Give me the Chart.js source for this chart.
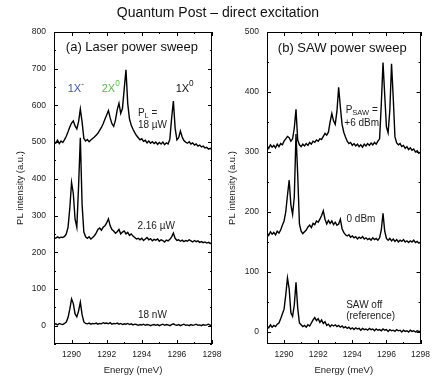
<!DOCTYPE html>
<html>
<head>
<meta charset="utf-8">
<script src="https://cdn.jsdelivr.net/npm/chart.js@4.4.0/dist/chart.umd.min.js"></script>
<style>
  html, body { margin: 0; padding: 0; background: #fff; }
  #wrap { position: relative; width: 436px; height: 380px; overflow: hidden; font-family: "Liberation Sans", Arial, sans-serif; }
  #title { position: absolute; left: 0; top: 4px; width: 436px; text-align: center; font-size: 14px; line-height: 16px; color: #111; }
  #left { position: absolute; left: 0; top: 0; }
  #right { position: absolute; left: 218px; top: 0; }
</style>
</head>
<body>
<div id="wrap">
  <canvas id="left" width="230" height="380"></canvas>
  <canvas id="right" width="218" height="380"></canvas>
  <div id="title">Quantum Post – direct excitation</div>
</div>
<script>
// energie (meV), pas de 0.1
const energy = [
  1289.0, 1289.1, 1289.2, 1289.3, 1289.4, 1289.5, 1289.6, 1289.7, 1289.8, 1289.9,
  1290.0, 1290.1, 1290.2, 1290.3, 1290.4, 1290.5, 1290.6, 1290.7, 1290.8, 1290.9,
  1291.0, 1291.1, 1291.2, 1291.3, 1291.4, 1291.5, 1291.6, 1291.7, 1291.8, 1291.9,
  1292.0, 1292.1, 1292.2, 1292.3, 1292.4, 1292.5, 1292.6, 1292.7, 1292.8, 1292.9,
  1293.0, 1293.1, 1293.2, 1293.3, 1293.4, 1293.5, 1293.6, 1293.7, 1293.8, 1293.9,
  1294.0, 1294.1, 1294.2, 1294.3, 1294.4, 1294.5, 1294.6, 1294.7, 1294.8, 1294.9,
  1295.0, 1295.1, 1295.2, 1295.3, 1295.4, 1295.5, 1295.6, 1295.7, 1295.8, 1295.9,
  1296.0, 1296.1, 1296.2, 1296.3, 1296.4, 1296.5, 1296.6, 1296.7, 1296.8, 1296.9,
  1297.0, 1297.1, 1297.2, 1297.3, 1297.4, 1297.5, 1297.6, 1297.7, 1297.8, 1297.9,
  1298.0
];

// (a) laser power sweep
const laser18uW = [
  502, 497, 505, 496, 503, 499, 507, 516, 528, 541,
  552, 558, 544, 536, 556, 590, 555, 510, 503, 507,
  501, 506, 510, 514, 519, 524, 532, 540, 550, 562,
  574, 586, 566, 550, 543, 560, 588, 606, 578, 592,
  645, 697, 605, 563, 546, 535, 526, 518, 512, 506,
  509, 502, 505, 498, 503, 497, 501, 496, 500, 494,
  499, 495, 500, 493, 498, 495, 508, 565, 612, 538,
  506, 512, 530, 514, 504, 500, 497, 501, 495, 498,
  492, 495, 489, 492, 487, 489, 484, 486, 481, 483,
  479
];
const laser2uW = [
  240, 238, 242, 239, 241, 240, 243, 250, 268, 320,
  390, 360, 290, 268, 380, 512, 330, 255, 242, 238,
  242, 236, 240, 245, 252, 262, 266, 260, 268, 272,
  280, 291, 272, 262, 258, 252, 256, 262, 250, 255,
  258, 250, 254, 246, 250, 244, 240, 236, 238, 234,
  238, 232, 236, 240, 234, 237, 231, 235, 233, 236,
  230, 234, 232, 228, 233, 231, 235, 242, 252, 238,
  232, 234, 230, 233, 229, 232, 230, 234, 231, 228,
  232, 229, 231, 227, 229, 226, 228, 225, 227, 224,
  225
];
const laser18nW = [
  3, 5, 2, 6, 4, 3, 6, 10, 22, 45,
  73, 60, 32, 24, 40, 64, 30, 10, 6, 5,
  7, 4, 6, 5, 7, 4, 6, 5, 8, 6,
  7, 5, 8, 4, 6, 5, 7, 4, 6, 3,
  5, 4, 6, 3, 5, 2, 4, 3, 1, 3,
  2, 4, 1, 3, 2, 0, 2, 3, 1, 3,
  0, 2, 4, 1, 3, 2, 0, 3, 5, 2,
  1, 3, 0, 2, 4, 1, 2, 0, 3, 1,
  2, 4, 1, 2, 0, 3, 1, 2, 4, 1,
  2
];

// (b) SAW power sweep
const saw6dBm = [
  310, 306, 312, 308, 311, 307, 313, 309, 314, 312,
  318, 322, 326, 324, 318, 322, 340, 371, 320, 312,
  309, 313, 310, 314, 311, 316, 313, 318, 316, 320,
  318, 322, 321, 326, 331, 328, 333, 350, 364, 352,
  346, 368, 408, 375, 346, 333, 325, 318, 314, 316,
  311, 314, 310, 313, 309, 312, 308, 313, 310, 314,
  311, 315, 312, 316, 313, 318, 322, 380, 449, 395,
  342, 332, 370, 447, 390, 325, 315, 312, 314, 309,
  311, 306, 309, 304, 307, 303, 305, 300, 302, 298,
  300
];
const saw0dBm = [
  165, 161, 167, 163, 166, 162, 168, 165, 170, 178,
  185, 200, 228, 253, 212, 196, 225, 330, 262, 180,
  168, 164, 167, 170, 175, 178, 174, 181, 179, 185,
  183, 188, 194, 202, 188, 180, 186, 181, 185, 179,
  183, 178, 180, 188, 172, 166, 162, 160, 162, 158,
  160, 157, 159, 155, 158, 156, 159, 155, 157, 154,
  156, 153, 157, 154, 156, 153, 157, 170, 198, 168,
  156, 153, 156, 152, 155, 151, 154, 150, 153, 151,
  154, 150, 152, 149, 152, 150, 153, 149, 151, 148,
  150
];
const sawOff = [
  10, 7, 12, 8, 11, 9, 13, 15, 22, 30,
  38, 62, 90, 72, 32, 26, 45, 83, 40, 15,
  12, 9, 11, 8, 12, 10, 15, 20, 24, 19,
  22, 16, 20, 14, 17, 11, 13, 9, 12, 10,
  12, 9, 11, 8, 10, 7, 9, 6, 8, 5,
  7, 4, 7, 5, 6, 3, 6, 4, 5, 3,
  6, 4, 5, 2, 5, 3, 4, 2, 5, 3,
  4, 1, 4, 2, 3, 1, 4, 2, 3, 0,
  3, 1, 2, 0, 3, 1, 2, 0, 2, 1,
  1
];

const FONT = '"Liberation Sans", Arial, sans-serif';
const INK = '#222';

// cadre + graduations vers l'interieur (majeures et mineures)
const frameTicks = {
  id: 'frameTicks',
  afterDraw(chart, args, opts) {
    const { ctx, chartArea: a, scales: { x, y } } = chart;
    ctx.save();
    ctx.strokeStyle = '#000';
    ctx.lineWidth = 1;
    ctx.strokeRect(Math.round(a.left) + 0.5, Math.round(a.top) + 0.5,
      Math.round(a.width) - 1, Math.round(a.height) - 1);
    ctx.beginPath();
    for (let e = Math.ceil(x.min); e <= x.max; e += 1) {
      const px = Math.round(x.getPixelForValue(e)) + 0.5;
      const len = e % 2 === 0 ? 4 : 2;
      ctx.moveTo(px, a.bottom); ctx.lineTo(px, a.bottom - len);
      ctx.moveTo(px, a.top); ctx.lineTo(px, a.top + len);
    }
    for (let v = Math.ceil(y.min / 50) * 50; v <= y.max; v += 50) {
      const py = Math.round(y.getPixelForValue(v)) + 0.5;
      const len = v % 100 === 0 ? 4 : 2;
      ctx.moveTo(a.left, py); ctx.lineTo(a.left + len, py);
      ctx.moveTo(a.right, py); ctx.lineTo(a.right - len, py);
    }
    ctx.stroke();
    ctx.restore();
  }
};

// textes dans le graphe, places en coordonnees des axes
const peakLabels = {
  id: 'peakLabels',
  afterDraw(chart, args, opts) {
    const { ctx, scales: { x, y } } = chart;
    ctx.save();
    ctx.textBaseline = 'middle';
    ctx.textAlign = 'left';
    opts.items.forEach(it => {
      const parts = [[it.text, it.size, 0]];
      if (it.sub) parts.push([it.sub, it.size * 0.75, it.size * 0.3]);
      if (it.sup) parts.push([it.sup, it.size * 0.75, -it.size * 0.4]);
      if (it.tail) parts.push([it.tail, it.size, 0]);
      let w = 0;
      parts.forEach(p => { ctx.font = p[1] + 'px ' + FONT; w += ctx.measureText(p[0]).width; });
      let cx = x.getPixelForValue(it.x);
      const cy = y.getPixelForValue(it.y);
      if (it.align === 'center') cx -= w / 2;
      ctx.fillStyle = it.color || INK;
      parts.forEach(p => {
        ctx.font = p[1] + 'px ' + FONT;
        ctx.fillText(p[0], cx, cy + p[2]);
        cx += ctx.measureText(p[0]).width;
      });
    });
    ctx.restore();
  }
};

function traces(series) {
  return series.map(s => ({
    data: energy.map((e, i) => ({ x: e, y: s[i] })),
    borderColor: '#000',
    borderWidth: 1.4,
    pointRadius: 0,
    tension: 0,
    fill: false
  }));
}

function makeOptions(yMin, yMax, yWidth, padRight, titlePad, items) {
  return {
    responsive: false,
    animation: false,
    events: [],
    layout: { padding: { top: 32, right: padRight, left: 0, bottom: 0 } },
    plugins: {
      legend: { display: false },
      tooltip: { enabled: false },
      peakLabels: { items: items }
    },
    scales: {
      x: {
        type: 'linear',
        min: 1289,
        max: 1298,
        grid: { display: false, drawTicks: false },
        border: { display: false },
        ticks: {
          stepSize: 2,
          includeBounds: false,
          maxRotation: 0,
          padding: 6,
          color: INK,
          font: { size: 8.5, family: FONT },
          callback: v => String(v)
        },
        title: {
          display: true,
          text: 'Energy (meV)',
          color: INK,
          font: { size: 9.5, family: FONT },
          padding: { top: 0, bottom: 4 }
        },
        afterFit: s => { s.height = 36; }
      },
      y: {
        min: yMin,
        max: yMax,
        grid: { display: false, drawTicks: false },
        border: { display: false },
        ticks: {
          stepSize: 100,
          includeBounds: false,
          padding: 8,
          color: INK,
          font: { size: 8.5, family: FONT }
        },
        title: {
          display: true,
          text: 'PL intensity (a.u.)',
          color: INK,
          font: { size: 9.5, family: FONT },
          padding: { top: titlePad, bottom: 0 }
        },
        afterFit: s => { s.width = yWidth; }
      }
    }
  };
}

const leftItems = [
  { x: 1293.44, y: 757, text: '(a) Laser power sweep', size: 13, align: 'center', color: '#111' },
  { x: 1289.78, y: 645, text: '1X', sup: '-', size: 11, color: '#3b5aa8' },
  { x: 1291.72, y: 646, text: '2X', sup: '0', size: 11, color: '#5cb84a' },
  { x: 1295.93, y: 646, text: '1X', sup: '0', size: 11, color: '#111' },
  { x: 1293.78, y: 579, text: 'P', sub: 'L', tail: ' =', size: 10 },
  { x: 1293.78, y: 545, text: '18 µW', size: 10 },
  { x: 1293.75, y: 270, text: '2.16 µW', size: 10 },
  { x: 1293.78, y: 28, text: '18 nW', size: 10 }
];

const rightItems = [
  { x: 1293.41, y: 473, text: '(b) SAW power sweep', size: 13, align: 'center', color: '#111' },
  { x: 1294.55, y: 370, text: 'P', sub: 'SAW', tail: ' =', size: 10, align: 'center' },
  { x: 1294.55, y: 348, text: '+6 dBm', size: 10, align: 'center' },
  { x: 1293.66, y: 188, text: '0 dBm', size: 10 },
  { x: 1293.64, y: 44, text: 'SAW off', size: 10 },
  { x: 1293.64, y: 26, text: '(reference)', size: 10 }
];

new Chart(document.getElementById('left'), {
  type: 'line',
  data: { datasets: traces([laser18uW, laser2uW, laser18nW]) },
  options: makeOptions(-50, 800, 54, 18, 15, leftItems),
  plugins: [frameTicks, peakLabels]
});

new Chart(document.getElementById('right'), {
  type: 'line',
  data: { datasets: traces([saw6dBm, saw0dBm, sawOff]) },
  options: makeOptions(-20, 500, 49, 10, 9, rightItems),
  plugins: [frameTicks, peakLabels]
});
</script>
</body>
</html>
